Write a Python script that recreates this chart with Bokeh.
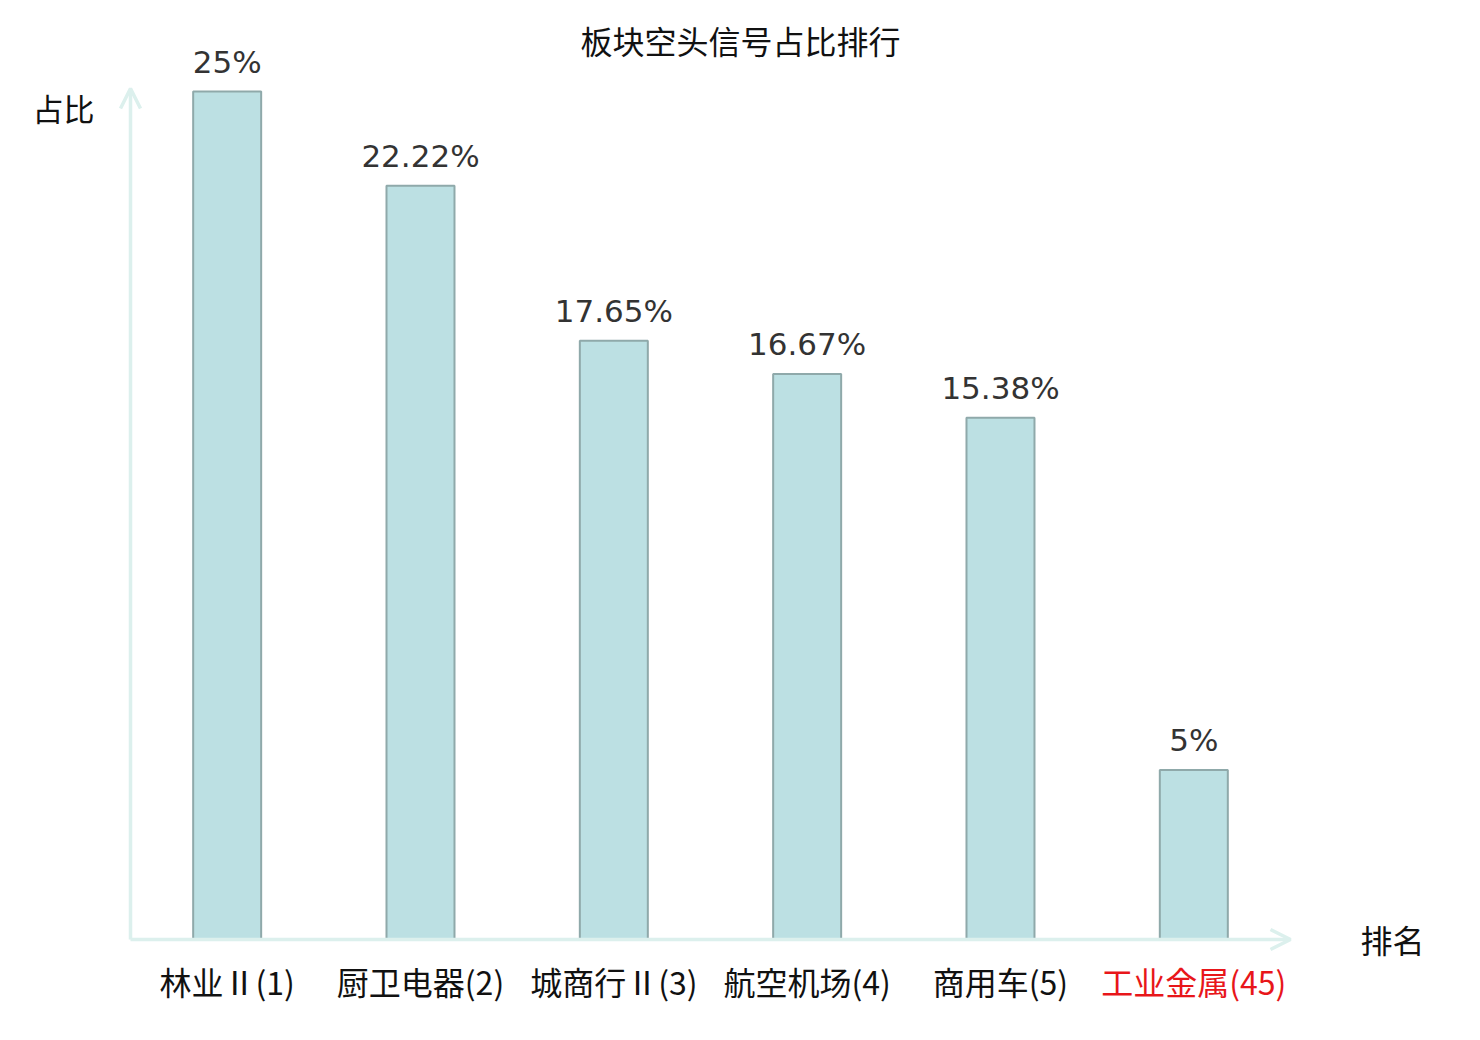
from bokeh.plotting import figure
from bokeh.models import Range1d, Arrow, OpenHead, Label, ColumnDataSource
from bokeh.embed import file_html
from bokeh.resources import INLINE
from bokeh.core.properties import value

# ---- data ----
categories = ["林业Ⅱ(1)", "厨卫电器(2)", "城商行Ⅱ(3)", "航空机场(4)", "商用车(5)", "工业金属(45)"]
shares = [25, 22.22, 17.65, 16.67, 15.38, 5]
share_labels = ["25%", "22.22%", "17.65%", "16.67%", "15.38%", "5%"]
label_colors = ["#111111", "#111111", "#111111", "#111111", "#111111", "#e8161a"]
title_text = "板块空头信号占比排行"
y_title = "占比"
x_title = "排名"

# ---- layout (figure pixels) ----
W, H = 1464, 1024
X0, Y0 = 130, 939          # origin of axes in figure px
PX_X = 193.33              # px per category slot
PX_Y = 33.92               # px per percentage point

p = figure(width=W, height=H, output_backend="svg", toolbar_location=None,
           x_range=Range1d(-X0 / PX_X, (W - X0) / PX_X),
           y_range=Range1d(-(H - Y0) / PX_Y, Y0 / PX_Y),
           min_border=0, x_axis_location=None, y_axis_location=None)
p.outline_line_color = None
p.grid.visible = False
p.background_fill_color = "white"
p.border_fill_color = "white"

def dx(px):
    return (px - X0) / PX_X

def dy(py):
    return (Y0 - py) / PX_Y

axis_color = "#dcf0ed"
# axes with arrows
p.add_layout(Arrow(x_start=0, y_start=0, x_end=0, y_end=dy(88),
                   line_color=axis_color, line_width=3.5,
                   end=OpenHead(size=20, line_color=axis_color, line_width=3.5)))
p.add_layout(Arrow(x_start=0, y_start=0, x_end=dx(1290), y_end=0,
                   line_color=axis_color, line_width=3.5,
                   end=OpenHead(size=20, line_color=axis_color, line_width=3.5)))

xs = [i + 0.5 for i in range(len(categories))]
src = ColumnDataSource(dict(x=xs, top=shares, lab=share_labels, cat=categories, col=label_colors))

p.vbar(x="x", top="top", bottom=0, width=68 / PX_X, source=src,
       fill_color="#bce0e3", line_color="#8fa9aa", line_width=2)

p.text(x="x", y="top", text="lab", source=src, text_align="center",
       text_baseline="alphabetic", y_offset=-30, text_font=value("DejaVu Sans"),
       text_font_size="31px", text_color="#333333")

p.text(x="x", y=0, text="cat", source=src, text_align="center",
       text_baseline="middle", y_offset=41, text_font=value("Noto Sans CJK JP"),
       text_font_size="32px", text_color="col")

p.add_layout(Label(x=dx(740), y=dy(39), text=title_text, text_align="center",
                   text_baseline="middle", text_font="Noto Sans CJK SC",
                   text_font_size="32px", text_color="#111111"))
p.add_layout(Label(x=dx(63), y=dy(107), text=y_title, text_align="center",
                   text_baseline="middle", text_font="Noto Sans CJK SC",
                   text_font_size="31px", text_color="#111111"))
p.add_layout(Label(x=dx(1392), y=dy(938), text=x_title, text_align="center",
                   text_baseline="middle", text_font="Noto Sans CJK SC",
                   text_font_size="32px", text_color="#111111"))

open("out.html", "w").write(file_html(p, INLINE))
